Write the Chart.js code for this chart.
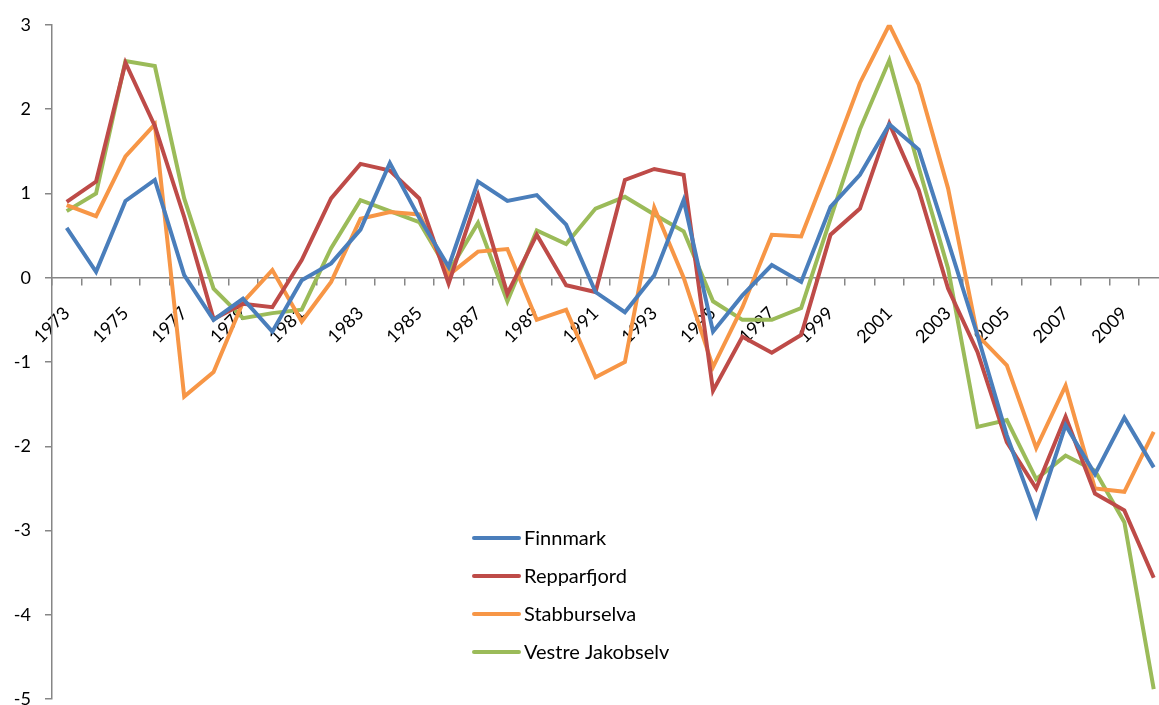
<!DOCTYPE html>
<html>
<head>
<meta charset="utf-8">
<script src="https://cdn.jsdelivr.net/npm/chart.js@4.4.0/dist/chart.umd.min.js"></script>
<style>
    html, body { margin: 0; background: #fff; overflow: hidden; }
    #wrap { width: 1159px; height: 705px; position: relative; overflow: hidden; }
    #lineChart { position: absolute; left: 0; top: 0; }
</style>
</head>
<body>
<div id="wrap"><canvas id="lineChart" width="1172" height="724"></canvas></div>
<script>
const years = [];
for (let y = 1973; y <= 2010; y++) years.push(String(y));

const finnmark = [0.59, 0.07, 0.91, 1.16, 0.03, -0.50, -0.25, -0.64, -0.03, 0.17,
    0.57, 1.36, 0.71, 0.13, 1.14, 0.91, 0.98, 0.63, -0.17, -0.41,
    0.03, 0.92, -0.64, -0.21, 0.15, -0.05, 0.84, 1.22, 1.82, 1.52,
    0.43, -0.68, -1.87, -2.82, -1.75, -2.33, -1.66, -2.25];
const repparfjord = [0.90, 1.14, 2.55, 1.80, 0.72, -0.49, -0.31, -0.35, 0.21, 0.94,
    1.35, 1.27, 0.94, -0.07, 0.98, -0.19, 0.51, -0.09, -0.17, 1.16,
    1.29, 1.22, -1.34, -0.70, -0.89, -0.68, 0.51, 0.82, 1.83, 1.04,
    -0.13, -0.88, -1.95, -2.50, -1.65, -2.56, -2.76, -3.56];
const stabburselva = [0.86, 0.73, 1.44, 1.82, -1.41, -1.12, -0.29, 0.09, -0.52, -0.05,
    0.70, 0.78, 0.75, 0.03, 0.31, 0.34, -0.50, -0.38, -1.18, -1.00,
    0.83, 0.00, -1.06, -0.35, 0.51, 0.49, 1.38, 2.31, 3.00, 2.29,
    1.06, -0.68, -1.04, -2.02, -1.28, -2.50, -2.54, -1.83];
const vestreJakobselv = [0.79, 1.00, 2.57, 2.51, 0.94, -0.13, -0.48, -0.42, -0.38, 0.35,
    0.92, 0.79, 0.66, 0.07, 0.65, -0.28, 0.56, 0.40, 0.82, 0.96,
    0.75, 0.55, -0.28, -0.50, -0.50, -0.36, 0.70, 1.76, 2.58, 1.31,
    0.11, -1.77, -1.69, -2.39, -2.11, -2.29, -2.90, -4.88];

const seriesNames = ['Finnmark', 'Repparfjord', 'Stabburselva', 'Vestre Jakobselv'];
const seriesColors = ['#4A7EBB', '#BE4B48', '#F79646', '#9BBB59'];

const axisGrey = '#868686';
const fontFamily = 'Lato, "Open Sans", sans-serif';

// legend sits inside the plot area, like the original
const innerLegend = {
    id: 'innerLegend',
    afterDraw(chart) {
        const ctx = chart.ctx;
        ctx.save();
        chart.data.datasets.forEach((ds, i) => {
            let y = 538 + i * 38;
            ctx.strokeStyle = ds.borderColor;
            ctx.lineWidth = 4;
            ctx.lineCap = 'round';
            ctx.beginPath();
            ctx.moveTo(474, y);
            ctx.lineTo(519, y);
            ctx.stroke();
            ctx.fillStyle = '#000';
            ctx.font = '20px ' + fontFamily;
            ctx.textBaseline = 'middle';
            ctx.textAlign = 'left';
            ctx.fillText(ds.label, 524, y + 1);
        });
        ctx.restore();
    }
};

const allSeries = [finnmark, repparfjord, stabburselva, vestreJakobselv];

new Chart(document.getElementById('lineChart'), {
    type: 'line',
    data: {
        labels: years,
        datasets: allSeries.map((vals, i) => ({
            label: seriesNames[i],
            data: vals,
            borderColor: seriesColors[i],
            backgroundColor: seriesColors[i],
            borderWidth: 4,
            pointRadius: 0,
            tension: 0,
            fill: false
        }))
    },
    options: {
        responsive: false,
        animation: false,
        layout: { padding: { top: 24, bottom: 8, left: 0, right: 0 } },
        plugins: {
            legend: { display: false },
            tooltip: { enabled: false }
        },
        scales: {
            x: {
                type: 'category',
                position: { y: 0 },
                offset: true,
                grid: {
                    offset: true,
                    drawOnChartArea: false,
                    // long tick to push the labels down, dash keeps the visible mark short
                    tickLength: 22,
                    tickBorderDash: [7, 60],
                    color: axisGrey,
                    lineWidth: 1.5
                },
                border: { color: axisGrey, width: 1.5 },
                ticks: {
                    autoSkip: false,
                    maxRotation: 45,
                    minRotation: 45,
                    color: '#000',
                    font: { family: fontFamily, size: 18 },
                    callback: function (val, i) {
                        return i % 2 === 0 ? this.getLabelForValue(val) : '';
                    }
                }
            },
            y: {
                min: -5,
                max: 3,
                grid: {
                    drawOnChartArea: false,
                    tickLength: 7,
                    color: axisGrey,
                    lineWidth: 1.5
                },
                border: { color: axisGrey, width: 1.5 },
                ticks: {
                    stepSize: 1,
                    padding: 14,
                    color: '#000',
                    font: { family: fontFamily, size: 18 }
                },
                afterFit: (scale) => { scale.width = 52; }
            }
        }
    },
    plugins: [innerLegend]
});
</script>
</body>
</html>
